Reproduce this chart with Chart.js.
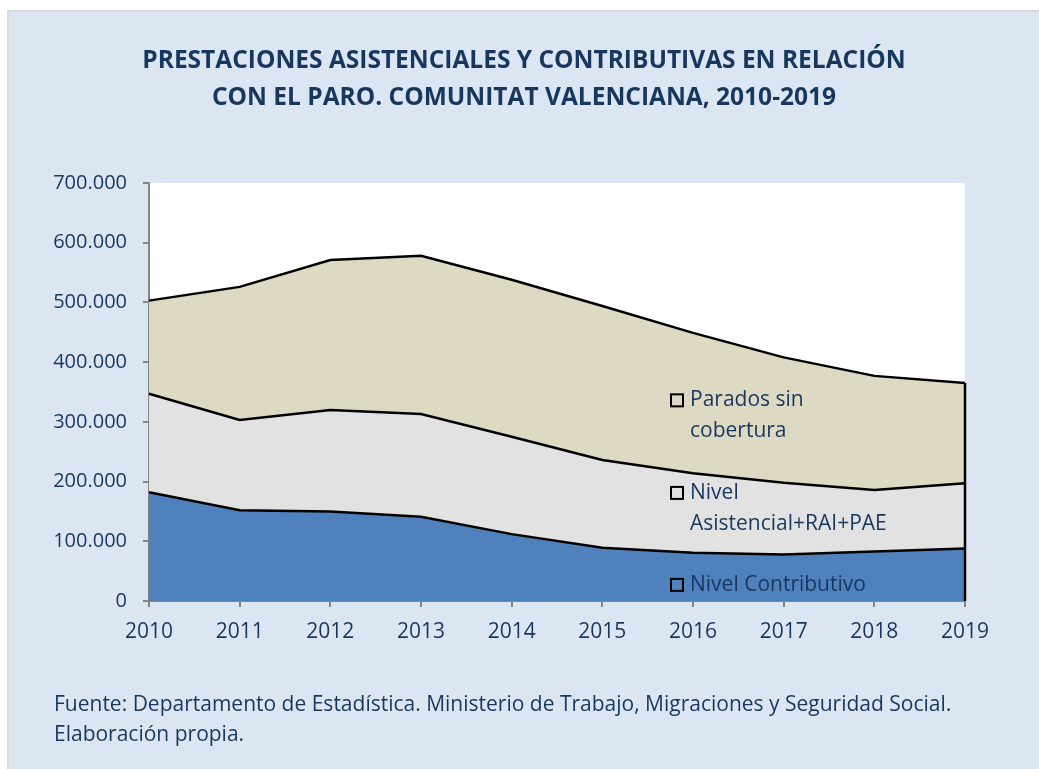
<!DOCTYPE html>
<html>
<head>
<meta charset="utf-8">
<script src="https://cdn.jsdelivr.net/npm/chart.js@4/dist/chart.umd.min.js"></script>
<style>
  html, body { margin: 0; padding: 0; background: #ffffff; overflow: hidden; }
  #caja {
    position: absolute; left: 7px; top: 10px;
    width: 1032px; height: 759px;
    background: #dce6f2;
    border-left: 2px solid #d9d9d9;
    border-top: 2px solid #d9d9d9;
  }
  #chart_paro { display: block; }
</style>
</head>
<body>
<div id="caja"><canvas id="chart_paro" width="1030" height="757"></canvas></div>
<script>
// datos (personas)
const years = ['2010', '2011', '2012', '2013', '2014', '2015', '2016', '2017', '2018', '2019']
const nivelContributivo = [182000, 152000, 150000, 141000, 112000, 89000, 81000, 78000, 83000, 88000]
const nivelAsistencial = [165000, 151000, 170000, 172000, 163000, 147000, 133000, 120000, 103000, 109000]
const paradosSinCobertura = [156000, 223000, 251000, 265000, 263000, 258000, 235000, 210000, 191000, 168000]
const seriesLabels = [['Nivel Contributivo'], ['Nivel', 'Asistencial+RAI+PAE'], ['Parados sin', 'cobertura']]
const titleLines = ['PRESTACIONES ASISTENCIALES Y CONTRIBUTIVAS EN RELACIÓN', 'CON EL PARO. COMUNITAT VALENCIANA, 2010-2019']
const sourceLines = ['Fuente: Departamento de Estadística. Ministerio de Trabajo, Migraciones y Seguridad Social.', 'Elaboración propia.']

const TEXT_COLOR = '#17375e'
const AXIS_COLOR = '#868686'
const colores = ['#4f81bd', '#e2e2e2', '#ddd9c3']

function fmt_miles(v) {
    return String(v).replace(/\B(?=(\d{3})+(?!\d))/g, '.')
}

// fondo blanco del área de trazado
const plotBg = {
    id: 'plotBg',
    beforeDraw(chart) {
        const a = chart.chartArea
        const ctx = chart.ctx
        ctx.save()
        ctx.fillStyle = '#ffffff'
        ctx.fillRect(a.left, a.top, a.right - a.left, a.bottom - a.top)
        ctx.restore()
    }
}

// borde vertical derecho de las áreas + etiquetas de series + fuente
const extras = {
    id: 'extras',
    afterDatasetsDraw(chart) {
        const ctx = chart.ctx
        const x = chart.scales.x
        const y = chart.scales.y
        const last = years.length - 1
        const total = nivelContributivo[last] + nivelAsistencial[last] + paradosSinCobertura[last]
        ctx.save()
        ctx.strokeStyle = '#000000'
        ctx.lineWidth = 2.5
        ctx.beginPath()
        ctx.moveTo(x.getPixelForValue(last), y.getPixelForValue(0))
        ctx.lineTo(x.getPixelForValue(last), y.getPixelForValue(total))
        ctx.stroke()
        ctx.restore()
    },
    afterDraw(chart) {
        const ctx = chart.ctx
        const x = chart.scales.x
        const y = chart.scales.y
        const anchorX = x.getPixelForValue(6)
        // valores (eje y) donde se sitúa cada etiqueta
        const anchorY = [27000, 181000, 336000]
        ctx.save()
        ctx.font = '21px "Open Sans"'
        ctx.textBaseline = 'middle'
        ctx.textAlign = 'left'
        for (let i = 0; i < seriesLabels.length; i++) {
            const py = y.getPixelForValue(anchorY[i])
            ctx.fillStyle = colores[i]
            ctx.fillRect(anchorX - 22, py - 6, 12, 12)
            ctx.strokeStyle = '#000000'
            ctx.lineWidth = 2
            ctx.strokeRect(anchorX - 22, py - 6, 12, 12)
            ctx.fillStyle = TEXT_COLOR
            seriesLabels[i].forEach((t, j) => {
                ctx.fillText(t, anchorX - 3, py + j * 31)
            })
        }
        // fuente
        ctx.font = '21px "Open Sans"'
        ctx.fillStyle = TEXT_COLOR
        sourceLines.forEach((t, j) => {
            ctx.fillText(t, 45, chart.chartArea.bottom + 104 + j * 30)
        })
        ctx.restore()
    }
}

const chart_paro = new Chart(document.getElementById('chart_paro'), {
    type: 'line',
    data: {
        labels: years,
        datasets: [
            {
                label: 'Nivel Contributivo',
                data: nivelContributivo,
                backgroundColor: colores[0],
                borderColor: '#000000',
                borderWidth: 2.5,
                fill: 'origin'
            },
            {
                label: 'Nivel Asistencial+RAI+PAE',
                data: nivelAsistencial,
                backgroundColor: colores[1],
                borderColor: '#000000',
                borderWidth: 2.5,
                fill: '-1'
            },
            {
                label: 'Parados sin cobertura',
                data: paradosSinCobertura,
                backgroundColor: colores[2],
                borderColor: '#000000',
                borderWidth: 2.5,
                fill: '-1'
            }
        ]
    },
    options: {
        responsive: false,
        animation: false,
        elements: {
            point: { radius: 0, hoverRadius: 0 },
            line: { tension: 0 }
        },
        layout: {
            padding: { left: 0, right: 0, top: 0, bottom: 110 }
        },
        scales: {
            x: {
                type: 'category',
                offset: false,
                z: 1,
                border: { color: AXIS_COLOR, width: 2 },
                grid: {
                    drawOnChartArea: false,
                    drawTicks: true,
                    tickLength: 6,
                    color: AXIS_COLOR,
                    lineWidth: 2
                },
                ticks: {
                    color: TEXT_COLOR,
                    font: { family: 'Open Sans', size: 21 },
                    padding: 12,
                    maxRotation: 0,
                    autoSkip: false
                },
                afterFit: function (scale) {
                    scale.height = 58
                }
            },
            y: {
                stacked: true,
                min: 0,
                max: 700000,
                z: 1,
                border: { color: AXIS_COLOR, width: 2 },
                grid: {
                    drawOnChartArea: false,
                    drawTicks: true,
                    tickLength: 6,
                    color: AXIS_COLOR,
                    lineWidth: 2
                },
                ticks: {
                    stepSize: 100000,
                    color: TEXT_COLOR,
                    font: { family: 'Open Sans', size: 20 },
                    padding: 16,
                    callback: function (value) {
                        return fmt_miles(value)
                    }
                },
                afterFit: function (scale) {
                    scale.width = 140
                }
            },
            // eje vacío para reservar el margen derecho
            margen: {
                position: 'right',
                display: true,
                grid: { display: false },
                border: { display: false },
                ticks: { display: false },
                afterFit: function (scale) {
                    scale.width = 74
                }
            }
        },
        plugins: {
            legend: { display: false },
            tooltip: { enabled: false },
            title: {
                display: true,
                text: titleLines,
                color: TEXT_COLOR,
                font: { family: 'Open Sans', size: 24.5, weight: 'bold', lineHeight: 1.51 },
                padding: { top: 31, bottom: 66 }
            }
        }
    },
    plugins: [plotBg, extras]
})
</script>
</body>
</html>
